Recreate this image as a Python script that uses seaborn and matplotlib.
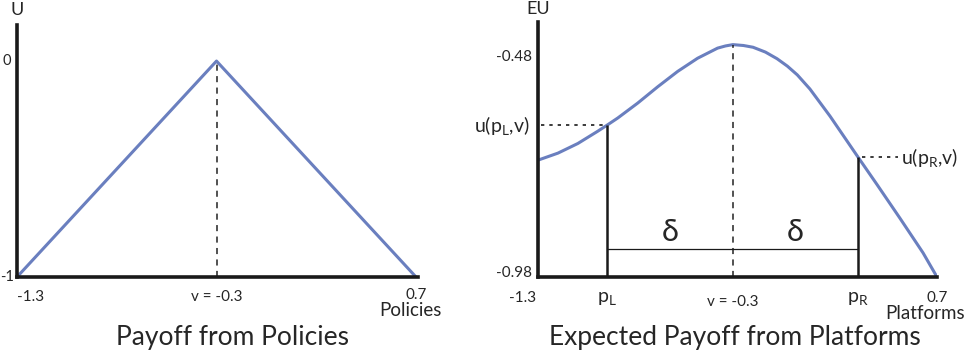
import numpy as np
import pandas as pd
import seaborn as sns
import matplotlib.pyplot as plt

sns.set_style("white")
plt.rcParams['font.family'] = ['Lato', 'DejaVu Sans']
plt.rcParams['mathtext.fontset'] = 'custom'
plt.rcParams['mathtext.rm'] = 'Lato'
plt.rcParams['mathtext.it'] = 'Lato'

# left panel: payoff from policies (tent)
pol_x = [-1.3, -0.3, 0.7]
pol_u = [-1.0, 0.0, -1.0]

# right panel: expected payoff from platforms
plat_x = [-1.3, -1.2, -1.1, -1.0, -0.956, -0.9, -0.8, -0.7, -0.6, -0.5,
          -0.4, -0.36, -0.323, -0.27, -0.222, -0.16, -0.102, -0.05, 0.0,
          0.063, 0.164, 0.304, 0.4, 0.514, 0.63, 0.7]
plat_eu = [-0.714, -0.698, -0.676, -0.648, -0.635, -0.618, -0.584, -0.547,
           -0.512, -0.482, -0.459, -0.454, -0.451, -0.453, -0.457, -0.468,
           -0.483, -0.500, -0.520, -0.552, -0.614, -0.707, -0.770, -0.846,
           -0.925, -0.98]

v_left = -0.3
v_right = -0.323
p_left, p_right = -0.956, 0.304
u_left, u_right = -0.635, -0.707

blue = '#6a7fbf'
W, H = 967, 351

fig = plt.figure(figsize=(W / 100, H / 100), dpi=100)


def box(x0, y0, x1, y1):
    # pixel box -> figure fraction [left, bottom, width, height]
    return [x0 / W, 1 - y1 / H, (x1 - x0) / W, (y1 - y0) / H]


def style(ax):
    for s in ['top', 'right']:
        ax.spines[s].set_visible(False)
    for s in ['left', 'bottom']:
        ax.spines[s].set_color('#1a1a1a')
        ax.spines[s].set_linewidth(2.6)
    ax.set_xticks([])
    ax.set_yticks([])
    ax.set_xlabel('')
    ax.set_ylabel('')
    ax.patch.set_alpha(0)


# ---- left panel
ax1 = fig.add_axes(box(17, 25, 418, 277))
sns.lineplot(x=pol_x, y=pol_u, ax=ax1, color=blue, lw=2.2)
ax1.set_xlim(-1.3, 0.71)
ax1.set_ylim(-1.0, 0.167)
ax1.vlines(v_left, -1.0, 0.0, colors='#222222', lw=1.1, linestyles=(0, (4, 3.5)))
style(ax1)
ax1.text(-1.3, 0.20, 'U', ha='center', va='bottom', fontsize=13)
ax1.text(-1.33, 0.0, '0', ha='right', va='center', fontsize=10.5)
ax1.text(-1.315, -1.0, '-1', ha='right', va='center', fontsize=10.5)
ax1.text(-1.3, -1.06, '-1.3', ha='left', va='top', fontsize=11)
ax1.text(v_left, -1.06, 'v = -0.3', ha='center', va='top', fontsize=11)
ax1.text(0.7, -1.05, '0.7', ha='center', va='top', fontsize=11)
ax1.text(0.67, -1.115, 'Policies', ha='center', va='top', fontsize=13.5)
fig.text(232 / W, 1 - 337 / H, 'Payoff from Policies', ha='center', va='center', fontsize=19)

# ---- right panel
ax2 = fig.add_axes(box(538, 22, 937, 277))
sns.lineplot(x=plat_x, y=plat_eu, ax=ax2, color=blue, lw=2.2)
ax2.set_xlim(-1.3, 0.7)
ax2.set_ylim(-0.98, -0.3995)
ax2.vlines(v_right, -0.98, max(plat_eu), colors='#222222', lw=1.1, linestyles=(0, (4, 3.5)))
ax2.vlines([p_left, p_right], -0.98, [u_left, u_right], colors='#1a1a1a', lw=1.8)
ax2.hlines(-0.98 + 28 / 440, p_left, p_right, colors='#1a1a1a', lw=0.9)
ax2.hlines(u_left, -1.285, p_left, colors='#1a1a1a', lw=1.2, linestyles=(0, (2, 3)))
ax2.hlines(u_right, p_right + 0.02, 0.505, colors='#1a1a1a', lw=1.2,
           linestyles=(0, (2, 3)), clip_on=False)
style(ax2)
ax2.text(-1.3, -0.387, 'EU', ha='center', va='bottom', fontsize=13)
ax2.text(-1.33, -0.48, '-0.48', ha='right', va='center', fontsize=11)
ax2.text(-1.33, -0.97, '-0.98', ha='right', va='center', fontsize=11)
ax2.text(-1.375, -1.013, '-1.3', ha='center', va='top', fontsize=11)
ax2.text(p_left, -1.01, r'$\mathregular{p_L}$', ha='center', va='top', fontsize=14)
ax2.text(v_right, -1.02, 'v = -0.3', ha='center', va='top', fontsize=11)
ax2.text(p_right, -1.01, r'$\mathregular{p_R}$', ha='center', va='top', fontsize=14)
ax2.text(0.7, -1.013, '0.7', ha='center', va='top', fontsize=11)
ax2.text(0.64, -1.043, 'Platforms', ha='center', va='top', fontsize=13.5)
ax2.text(-1.34, u_left, r'u(p$_\mathregular{L}$,v)', ha='right', va='center', fontsize=14)
ax2.text(0.52, u_right, r'u(p$_\mathregular{R}$,v)', ha='left', va='center', fontsize=14)
ax2.text((p_left + v_right) / 2, -0.98 + 45 / 440, 'δ', ha='center', va='center', fontsize=22)
ax2.text((p_right + v_right) / 2, -0.98 + 45 / 440, 'δ', ha='center', va='center', fontsize=22)
for t in ax2.texts + ax1.texts:
    t.set_clip_on(False)
fig.text(735 / W, 1 - 337 / H, 'Expected Payoff from Platforms', ha='center', va='center', fontsize=19)

fig.savefig('out.png', dpi=100)
